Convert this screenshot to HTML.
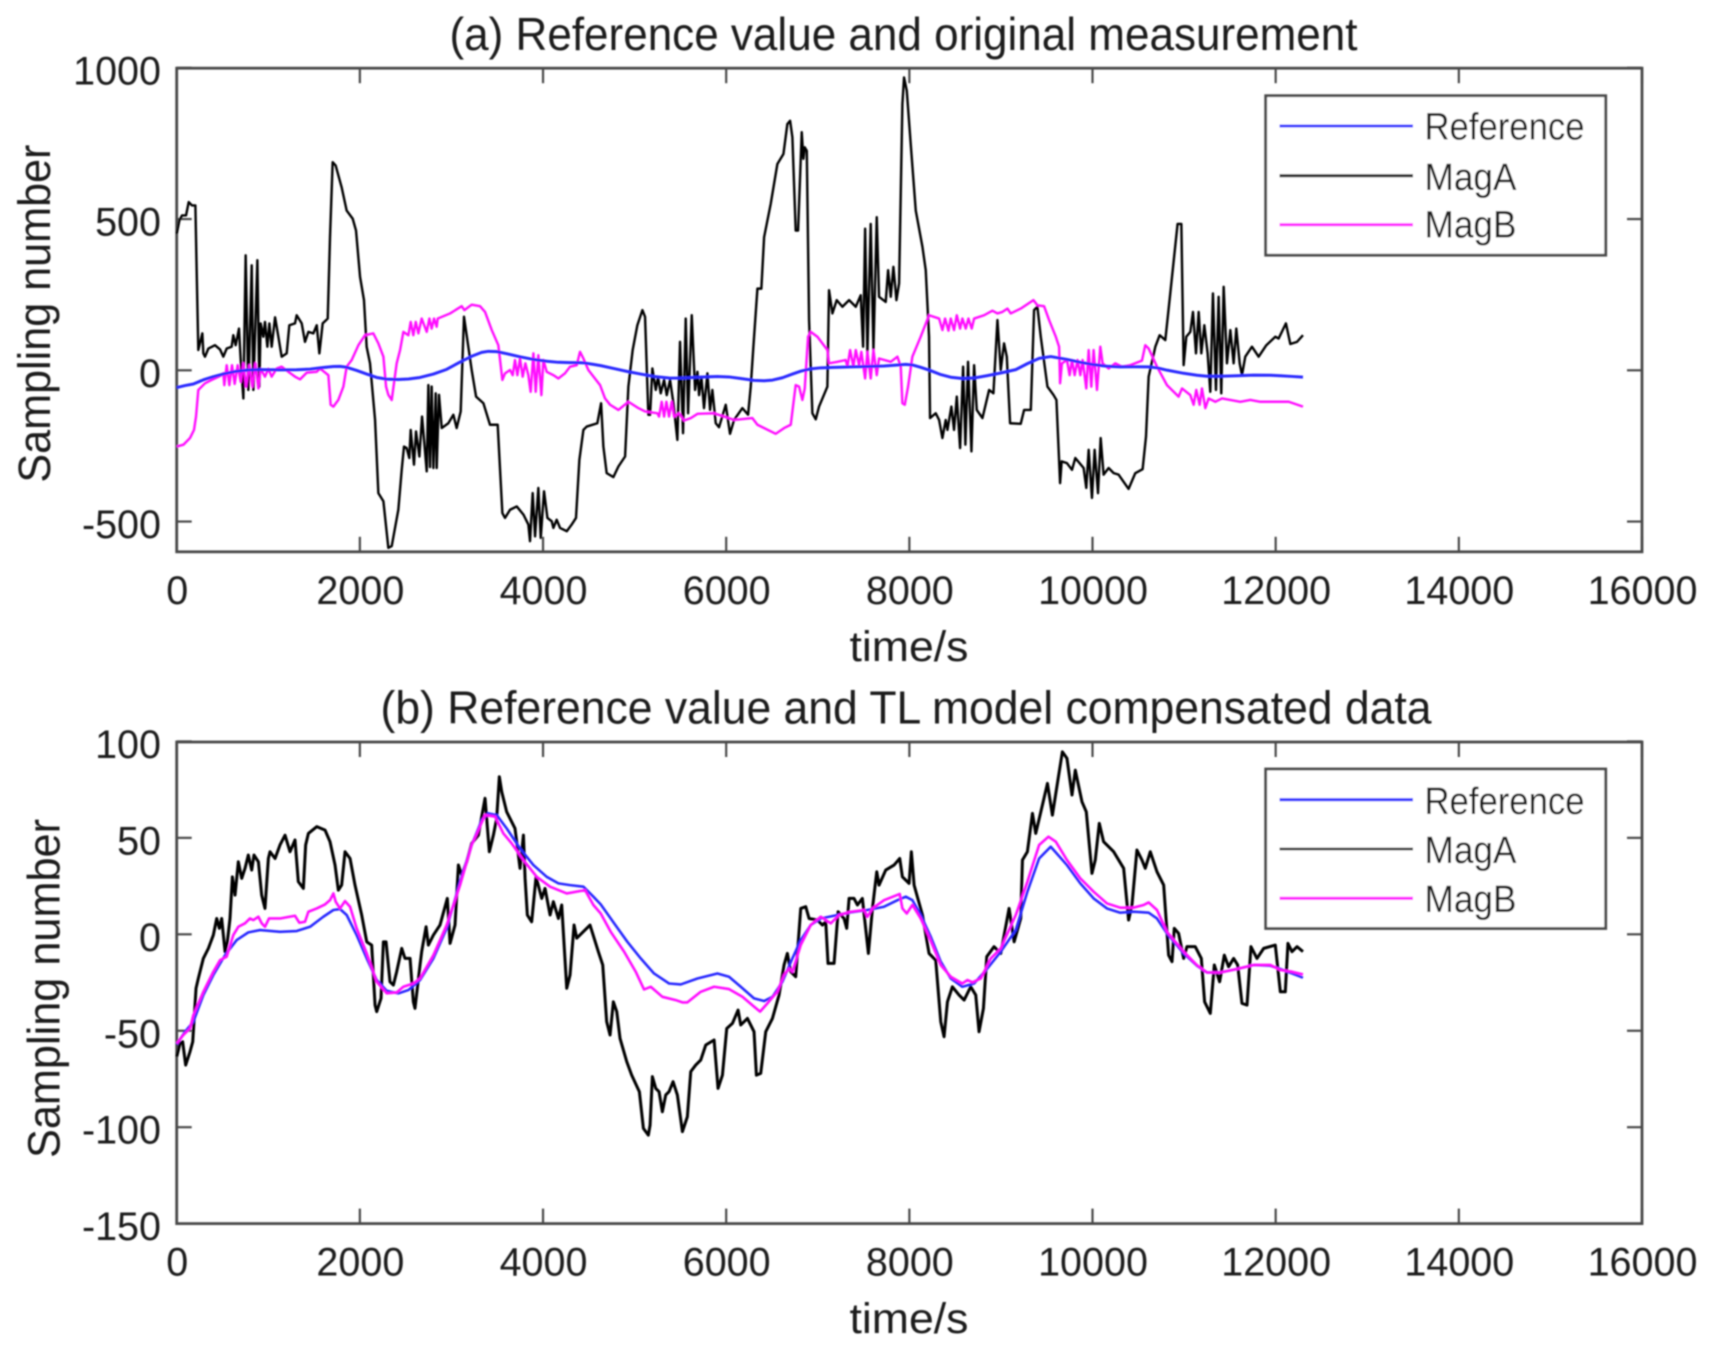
<!DOCTYPE html>
<html lang="en">
<head>
<meta charset="utf-8">
<title>Reference value and measurement charts</title>
<style>
html,body{margin:0;padding:0;background:#fff;width:1717px;height:1363px;overflow:hidden}
svg{display:block}
text{font-family:"Liberation Sans",Arial,sans-serif;fill:#1c1c1c}
</style>
</head>
<body>
<svg id="fig" xmlns="http://www.w3.org/2000/svg" width="1717" height="1363" viewBox="0 0 1717 1363">
<defs><filter id="soft" x="0" y="0" width="100%" height="100%"><feGaussianBlur stdDeviation="0.7"/></filter></defs>
<rect x="0" y="0" width="1717" height="1363" fill="#fff"/>
<g id="root" filter="url(#soft)">
<g id="panelA">
<text x="903.5" y="50" font-size="46" text-anchor="middle" textLength="908" lengthAdjust="spacingAndGlyphs">(a) Reference value and original measurement</text>
<text x="909" y="661" font-size="43" text-anchor="middle" textLength="119" lengthAdjust="spacingAndGlyphs">time/s</text>
<text transform="translate(50,313.6) rotate(-90)" font-size="45" text-anchor="middle" textLength="338" lengthAdjust="spacingAndGlyphs">Sampling number</text>
</g>
<g id="panelB">
<text x="906" y="723.5" font-size="46" text-anchor="middle" textLength="1051" lengthAdjust="spacingAndGlyphs">(b) Reference value and TL model compensated data</text>
<text x="909" y="1333" font-size="43" text-anchor="middle" textLength="119" lengthAdjust="spacingAndGlyphs">time/s</text>
<text transform="translate(59.5,988.5) rotate(-90)" font-size="45" text-anchor="middle" textLength="339" lengthAdjust="spacingAndGlyphs">Sampling number</text>
</g>
<g>
<rect x="1265.7" y="95.7" width="340" height="159.5" fill="#fff" stroke="#4a4a4a" stroke-width="2.8"/>
<line x1="1279.5" x2="1413" y1="126" y2="126" stroke="#3232ff" stroke-width="3"/>
<line x1="1279.5" x2="1413" y1="175.7" y2="175.7" stroke="#222" stroke-width="3"/>
<line x1="1279.5" x2="1413" y1="224.7" y2="224.7" stroke="#ff1eff" stroke-width="3"/>
<text x="1424.5" y="139.6" font-size="38" textLength="160" lengthAdjust="spacingAndGlyphs">Reference</text>
<text x="1424.5" y="190" font-size="38" textLength="92" lengthAdjust="spacingAndGlyphs">MagA</text>
<text x="1424.5" y="237.6" font-size="38" textLength="92" lengthAdjust="spacingAndGlyphs">MagB</text>
</g>
<g>
<rect x="1265.7" y="769" width="340" height="159.5" fill="#fff" stroke="#4a4a4a" stroke-width="2.8"/>
<line x1="1279.5" x2="1413" y1="799.7" y2="799.7" stroke="#3232ff" stroke-width="3.2"/>
<line x1="1279.5" x2="1413" y1="849" y2="849" stroke="#222" stroke-width="2.6"/>
<line x1="1279.5" x2="1413" y1="898.3" y2="898.3" stroke="#ff1eff" stroke-width="3.2"/>
<text x="1424.5" y="814" font-size="38" textLength="160" lengthAdjust="spacingAndGlyphs">Reference</text>
<text x="1424.5" y="863" font-size="38" textLength="92" lengthAdjust="spacingAndGlyphs">MagA</text>
<text x="1424.5" y="912" font-size="38" textLength="92" lengthAdjust="spacingAndGlyphs">MagB</text>
</g>
</g>
</svg>
<script>
var xTicks = [0,2000,4000,6000,8000,10000,12000,14000,16000];
var aYTicks = [1000,500,0,-500];
var bYTicks = [100,50,0,-50,-100,-150];

var refTime = [0,91,182,291,400,528,655,782,910,1128,1310,1456,1601,1711,1783,1856,1965,2075,2184,2293,2420,2530,2657,2803,2948,3094,3221,3330,3403,3494,3603,3749,3895,4040,4168,4295,4441,4550,4630,4776,4921,5067,5212,5376,5504,5686,5904,6031,6159,6304,6414,6505,6614,6723,6814,6923,7032,7178,7360,7542,7724,7870,7961,8033,8124,8234,8343,8452,8579,8707,8852,8998,9162,9289,9417,9544,9721,9867,10012,10158,10303,10449,10613,10704,10813,10995,11141,11250,11395,11577,11759,11941,12051,12178,12298];
var refValues = [-57,-50.5,-45.3,-31.5,-21.1,-10.8,-3,1,2.2,1.3,1.7,3.9,9.1,12.6,13.1,10,-0.4,-12.5,-23.7,-29.3,-30.6,-28.9,-23.7,-12.5,3.1,27.3,46.3,59.2,62.7,61.8,54.9,44.5,35.9,29.8,26.4,25.5,24.7,19.5,15.5,5.7,-3.9,-12.5,-20.3,-25.5,-26,-22.9,-20.3,-22,-27.2,-33.2,-34.6,-32.4,-24.6,-12.5,-3,4.8,8.2,9.6,11.4,12.6,14.3,17.7,19.5,17.7,10,-1.3,-14.2,-22.9,-27.2,-25.5,-17.7,-9,2.2,22.1,39.3,45.4,35.9,26.4,18.6,13.4,11.2,11.7,11.2,8.2,0.5,-9.9,-16.3,-19.8,-19.8,-18,-15.9,-16.3,-18,-20.3,-22.5];

var aMagATime = [0,29,58,102,131,167,204,218,236,280,291,309,346,418,473,509,546,600,618,644,680,699,728,753,782,819,837,881,902,917,946,964,990,1012,1037,1074,1110,1146,1201,1230,1292,1310,1365,1401,1438,1492,1529,1558,1594,1649,1674,1703,1736,1801,1856,1922,1958,2002,2045,2074,2111,2166,2202,2257,2311,2348,2420,2457,2482,2511,2540,2555,2591,2613,2650,2679,2730,2748,2766,2784,2803,2828,2839,2864,2894,2966,3021,3057,3101,3137,3166,3221,3269,3349,3421,3505,3531,3556,3585,3640,3713,3786,3840,3858,3887,3913,3949,3975,4011,4048,4095,4113,4149,4186,4259,4313,4360,4397,4441,4477,4593,4634,4659,4695,4768,4823,4896,4932,4979,5030,5085,5114,5150,5169,5194,5231,5256,5285,5322,5351,5387,5424,5467,5496,5529,5558,5584,5624,5660,5686,5704,5729,5758,5795,5824,5849,5886,5922,5995,6042,6086,6177,6239,6268,6297,6341,6384,6414,6486,6559,6625,6668,6698,6723,6759,6785,6825,6843,6858,6880,6905,6941,6978,7014,7105,7123,7160,7207,7269,7342,7415,7469,7495,7517,7542,7578,7608,7644,7669,7742,7768,7797,7826,7859,7888,7924,7942,7972,8015,8070,8143,8179,8215,8226,8288,8325,8361,8397,8416,8459,8488,8518,8554,8587,8612,8641,8678,8707,8736,8798,8871,8918,8962,8998,9034,9064,9100,9216,9253,9326,9362,9398,9435,9508,9573,9606,9646,9663,9721,9776,9812,9903,9932,9958,9994,10023,10060,10089,10121,10176,10231,10285,10394,10467,10547,10584,10613,10686,10733,10795,10849,10929,10970,10995,11024,11068,11097,11130,11159,11188,11221,11257,11286,11315,11348,11377,11406,11432,11468,11505,11541,11570,11607,11632,11668,11741,11814,11898,11996,12032,12112,12160,12233,12298];
var aMagAValues = [451,495,512,512,556,545,545,331,67,122,56,45,72,83,69,45,72,78,116,83,138,34,-93,380,-65,347,-65,364,-54,155,111,160,78,155,78,175,111,45,56,149,155,182,155,94,127,122,149,56,155,171,440,688,677,605,528,501,462,309,232,78,23,-164,-406,-433,-587,-581,-461,-329,-252,-257,-290,-197,-312,-202,-285,-153,-334,-49,-320,-54,-323,-76,-323,-81,-191,-175,-147,-191,-136,177,116,1,-87,-109,-180,-180,-329,-472,-488,-461,-450,-477,-510,-565,-406,-549,-389,-554,-400,-488,-499,-521,-494,-521,-532,-510,-488,-296,-197,-186,-175,-109,-252,-340,-353,-318,-285,-54,67,149,199,177,-147,-147,6,-65,-21,-76,-32,-82,-32,-109,-230,94,-208,171,-142,182,-65,-5,-82,-21,-125,-10,-131,-65,-175,-188,-114,-210,-164,-125,-147,-54,78,270,270,440,550,682,715,814,825,770,462,462,787,699,737,726,166,-142,-162,-120,-54,265,188,232,210,232,210,248,78,468,56,484,67,506,243,226,331,243,342,232,287,880,968,924,748,528,408,331,111,-158,-142,-164,-224,-164,-197,-120,-197,-87,-257,12,-246,28,-268,17,-131,-158,-65,-76,166,1,89,45,-175,-177,-131,-131,199,210,111,-54,-81,-98,-373,-301,-307,-329,-290,-323,-389,-263,-422,-263,-406,-224,-345,-323,-340,-345,-392,-340,-327,-219,-21,78,116,100,254,484,484,17,111,127,193,56,193,56,149,56,-71,254,-65,243,-76,276,23,133,23,138,23,-16,45,78,45,83,111,105,155,87,94,116];

var aMagBTime = [0,73,145,189,211,236,309,382,473,509,520,546,575,604,633,666,699,728,757,793,826,859,892,917,964,1001,1037,1092,1146,1219,1292,1347,1419,1529,1565,1656,1681,1711,1765,1820,1856,1911,1984,2056,2147,2202,2257,2286,2311,2348,2402,2439,2475,2530,2555,2584,2610,2639,2675,2730,2759,2784,2810,2839,2850,2985,3112,3141,3221,3312,3367,3440,3512,3531,3556,3585,3640,3669,3694,3720,3749,3778,3807,3840,3865,3895,3920,3949,3982,4004,4040,4113,4168,4240,4295,4368,4404,4441,4495,4623,4677,4732,4823,4932,5041,5114,5249,5267,5296,5322,5347,5376,5405,5431,5485,5540,5613,5686,5868,6086,6286,6341,6541,6632,6705,6734,6759,6796,6832,6858,6894,6923,6996,7105,7123,7214,7305,7324,7353,7389,7415,7451,7476,7517,7542,7578,7608,7644,7669,7797,7870,7906,7924,7950,7986,8033,8124,8215,8325,8361,8390,8427,8452,8488,8518,8554,8579,8616,8645,8681,8707,8816,8907,8962,9016,9071,9107,9216,9355,9398,9471,9526,9599,9635,9646,9666,9721,9750,9776,9805,9837,9867,9892,9932,9958,9987,10012,10049,10085,10110,10176,10249,10322,10413,10540,10576,10613,10704,10813,10940,10977,11068,11104,11133,11170,11195,11232,11268,11341,11414,11541,11614,11723,11832,11978,12142,12298];
var aMagBValues = [-252,-246,-224,-197,-153,-65,-43,-32,-19,-10,-49,17,-49,17,-45,17,-38,23,-54,17,-54,23,-60,5,-21,5,-21,6,12,-5,-21,-30,-8,-5,6,-16,-114,-120,-98,-54,12,34,83,116,122,89,45,-54,-81,-98,23,67,127,116,160,116,160,122,171,127,171,138,171,144,171,188,212,199,217,212,193,133,83,34,-32,-10,1,-16,34,-16,39,-21,23,-16,-71,56,-71,50,-82,34,-5,-16,-27,-10,12,17,61,39,1,-49,-93,-114,-131,-104,-125,-136,-142,-153,-104,-153,-104,-153,-104,-153,-142,-166,-158,-144,-142,-164,-158,-180,-210,-191,-180,-109,-49,-54,-98,-60,111,127,111,67,23,28,34,12,67,12,67,17,61,-27,61,-27,67,-16,39,28,45,12,-109,-114,-54,45,111,182,171,133,171,131,171,133,182,138,171,138,171,138,171,182,197,188,193,204,188,204,232,215,212,166,111,78,-43,23,34,-16,34,-16,34,-16,34,-60,67,-54,67,-65,78,23,6,23,12,17,32,83,72,12,-49,-87,-60,-82,-114,-65,-114,-60,-125,-93,-104,-93,-100,-104,-98,-104,-104,-104,-120];

var bMagATime = [0,36,65,98,145,175,211,236,291,346,400,437,466,491,528,553,582,608,637,673,710,746,782,819,844,892,928,964,1001,1019,1074,1128,1183,1237,1292,1328,1383,1408,1438,1529,1620,1674,1729,1765,1801,1838,1893,1947,2020,2075,2129,2166,2184,2231,2257,2286,2329,2366,2402,2457,2493,2548,2584,2602,2657,2675,2723,2748,2803,2875,2955,2985,3039,3076,3112,3167,3221,3294,3367,3414,3458,3494,3523,3549,3603,3694,3749,3786,3804,3829,3876,3924,3986,4022,4077,4113,4168,4204,4259,4295,4339,4368,4513,4604,4652,4695,4732,4768,4805,4841,4914,4968,5052,5096,5150,5169,5194,5231,5267,5303,5340,5376,5420,5467,5522,5576,5613,5667,5722,5777,5868,5911,5959,6006,6068,6130,6159,6232,6304,6330,6377,6432,6505,6577,6632,6668,6705,6759,6814,6869,6905,6996,7051,7087,7112,7178,7222,7287,7316,7342,7396,7433,7487,7553,7597,7644,7669,7742,7833,7895,7924,7997,8022,8052,8143,8215,8288,8343,8379,8416,8470,8543,8598,8670,8725,8761,8809,8845,8925,8998,9089,9144,9216,9235,9289,9344,9380,9453,9508,9562,9599,9671,9721,9776,9812,9885,9932,9994,10030,10074,10121,10231,10340,10394,10431,10485,10540,10576,10631,10704,10777,10831,10868,10893,10940,10995,11031,11122,11188,11224,11286,11330,11388,11439,11486,11541,11585,11632,11687,11730,11796,11869,11996,12051,12105,12134,12178,12233,12298];
var bMagAValues = [-63.5,-56.6,-55.7,-67.8,-60.9,-55.7,-28,-22.9,-12.5,-7.3,-0.4,8.2,3.1,8.2,-9,-3.9,8.2,29.8,20.3,37.6,29,34.2,41.1,33.3,41.1,37.6,20.3,13.4,39.3,42.8,39.3,46.3,51.4,42.8,48.9,27.3,23.8,46.3,52.3,55.8,54,48,35.9,22.9,25.5,42.8,39.3,25.5,10,-3.9,-5.6,-36.7,-40.1,-33.2,-3.9,-3.9,-24.6,-26.3,-19.4,-7.3,-12.5,-12.5,-35,-38.4,-15.9,-9,3.9,-5.6,-0.4,4.8,18.6,-4.7,4.8,35.9,30.7,37.6,47.1,51.4,70.5,42.8,51.4,60.1,81.7,73.9,63.5,54.9,34.2,51.4,29,10,6.5,29.8,18.6,23.8,10,16.9,8.2,15.2,-28,-21.1,4.8,-2,4.8,-9,-15.9,-45.3,-52.2,-35,-40.1,-54,-66,-73,-81.6,-100.6,-104.1,-98.9,-73.8,-79.9,-81.6,-92,-83.3,-81.6,-76.4,-83.3,-102.3,-94.6,-71.2,-67.8,-65.2,-57.4,-54.8,-79.9,-73,-48.8,-46.2,-39.3,-47,-43.6,-50.5,-73,-72.1,-50.5,-43.6,-31.5,-15.9,-9.9,-19.4,-22,13.4,14.3,8.2,7.4,4.8,6.5,-15.1,-15.1,11.7,8.2,3.1,18.6,18.6,15.2,18.6,-9.9,13.4,32.4,25.5,33.3,35.9,39.3,29.8,26.4,42.8,25.5,10,-9.9,-13.4,-45.3,-53.1,-35,-27.2,-31.5,-34.1,-27.2,-31.5,-50.5,-38.4,-11.6,-6.4,-9.9,13.4,-3.9,8.2,38.5,42.8,62.7,52.3,67,78.2,61.8,73,94.6,91.2,72.2,85.1,68.7,63.5,31.6,38.5,57.5,48,42.8,34.2,7.4,15.2,43.7,38.5,34.2,42.8,32.4,25.5,-10.8,-14.2,3.1,0.5,-12.5,-6.4,-6.4,-12.5,-35,-41,-15.9,-24.6,-10.8,-16.8,-12.5,-15.9,-35.8,-36.7,-6.4,-12.5,-7.3,-5.6,-29.8,-29.8,-4.7,-9,-6.4,-9];

var bMagBTime = [0,73,145,182,291,400,473,546,618,673,746,800,837,892,928,964,1008,1128,1292,1339,1401,1438,1529,1620,1674,1711,1736,1783,1838,1893,1965,2075,2184,2293,2402,2475,2584,2657,2803,2948,3094,3221,3367,3476,3531,3567,3658,3786,3931,4077,4259,4459,4550,4630,4739,4885,5012,5103,5176,5303,5449,5522,5576,5722,5868,6031,6177,6304,6370,6450,6559,6632,6687,6723,6814,6923,7032,7142,7233,7360,7506,7542,7597,7724,7895,7924,7972,8033,8124,8215,8343,8452,8579,8634,8689,8780,8889,8998,9162,9289,9417,9519,9599,9721,9867,10012,10158,10303,10449,10558,10613,10704,10813,10995,11141,11250,11395,11577,11759,11941,12051,12178,12298];
var bMagBValues = [-56.6,-52.2,-48.8,-41.9,-29.8,-19.4,-13.4,-11.6,-0.4,3.9,5.7,8.2,7.4,9.1,5.7,3.9,8.2,8.2,9.6,6,6.5,11.7,13.4,15.5,17.7,21.2,16.9,13.4,17.2,14.3,3.1,-9.9,-24.6,-30.6,-30.1,-27.2,-25.5,-22.9,-10.8,4.8,25.5,46.3,61.8,61,55.8,52.3,47.1,38.5,29.8,24.7,21.2,22.9,15.2,10.8,1.3,-9,-19.4,-28.6,-27.2,-32.4,-34.1,-35.3,-35.3,-29.8,-27.2,-28.4,-32.4,-37.5,-40.1,-35.8,-29.8,-21.1,-17.7,-19.4,-5.6,4.8,9.1,5.7,10,11.7,12.6,9.1,13.4,17.7,20.9,13.4,10.8,15.2,8.2,-1.3,-16,-22,-25.5,-23.7,-24.9,-22.9,-12.5,-7.3,10,27.3,46.3,50.6,48,38.5,29,22.1,16,13.8,13.8,15.2,16.5,12.6,1.3,-9,-16,-19.8,-19.8,-18,-15.9,-15.9,-18.5,-19.4,-20.8];

var SVGNS = 'http://www.w3.org/2000/svg';
var AXIS_COLOR = '#4a4a4a';
var XMIN = 0, XMAX = 16000;
var LEFT = 176.7, RIGHT = 1642;

function xScale(t){ return LEFT + (t - XMIN) / (XMAX - XMIN) * (RIGHT - LEFT); }
function yScaleA(v){ return 370.3 - v * 0.3025; }
function yScaleB(v){ return 934.3 - v * 1.929; }

function make(tag, attrs, parent){
  var el = document.createElementNS(SVGNS, tag);
  for (var k in attrs) el.setAttribute(k, attrs[k]);
  parent.appendChild(el);
  return el;
}

function drawAxes(panel, prefix, yTicks, yScale, top, bottom){
  var frame = make('rect', {x:LEFT, y:top, width:RIGHT-LEFT, height:bottom-top, fill:'none', stroke:AXIS_COLOR, 'stroke-width':2.8}, panel);
  
  
  xTicks.forEach(function(t){
    var x = xScale(t);
    var tb = make('line', {x1:x, x2:x, y1:bottom, y2:bottom-15, stroke:AXIS_COLOR, 'stroke-width':2.2}, panel);
    
    
    var tt = make('line', {x1:x, x2:x, y1:top, y2:top+15, stroke:AXIS_COLOR, 'stroke-width':2.2}, panel);
    
    
    var lab = make('text', {x:x+0.5, y:bottom+52, 'font-size':39.5, 'text-anchor':'middle'}, panel);
    lab.textContent = String(t);
    
    
  });
  yTicks.forEach(function(v){
    var y = yScale(v);
    var tl = make('line', {x1:LEFT, x2:LEFT+15, y1:y, y2:y, stroke:AXIS_COLOR, 'stroke-width':2.2}, panel);
    
    
    var tr = make('line', {x1:RIGHT, x2:RIGHT-15, y1:y, y2:y, stroke:AXIS_COLOR, 'stroke-width':2.2}, panel);
    
    
    var lab = make('text', {x:161, y:y+16.5, 'font-size':39.5, 'text-anchor':'end'}, panel);
    lab.textContent = String(v);
    
    
  });
}

function drawLine(panel, name, times, values, yScale, color, width){
  var d = '';
  for (var i = 0; i < times.length; i++){
    d += (i ? 'L' : 'M') + xScale(times[i]).toFixed(2) + ' ' + yScale(values[i]).toFixed(2);
  }
  var p = make('path', {d:d, fill:'none', stroke:color, 'stroke-width':width, 'stroke-linejoin':'round'}, panel);
  
  
  return p;
}

var panelA = document.getElementById('panelA');
var panelB = document.getElementById('panelB');
drawAxes(panelA, 'panel-a', aYTicks, yScaleA, 68.2, 551.8);
drawAxes(panelB, 'panel-b', bYTicks, yScaleB, 742, 1223.6);
drawLine(panelA, 'panel-a-maga-line', aMagATime, aMagAValues, yScaleA, '#000', 2.4);
drawLine(panelA, 'panel-a-magb-line', aMagBTime, aMagBValues, yScaleA, '#ff10ff', 2.4);
drawLine(panelA, 'panel-a-reference-line', refTime, refValues, yScaleA, '#2a2aff', 3);
drawLine(panelB, 'panel-b-maga-line', bMagATime, bMagAValues, yScaleB, '#000', 3);
drawLine(panelB, 'panel-b-reference-line', refTime, refValues, yScaleB, '#2a2aff', 2.6);
drawLine(panelB, 'panel-b-magb-line', bMagBTime, bMagBValues, yScaleB, '#ff10ff', 2.6);
</script>
</body>
</html>
